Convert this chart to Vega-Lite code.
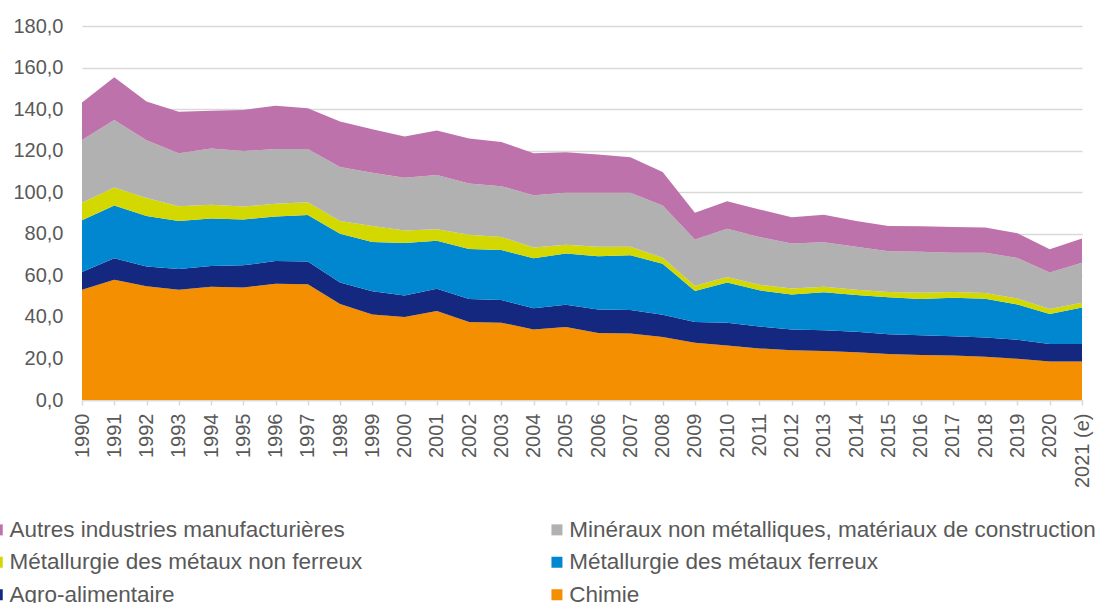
{
  "$schema": "https://vega.github.io/schema/vega-lite/v6.json",
  "width": 1000,
  "height": 374,
  "autosize": "none",
  "padding": {"left": 82, "top": 26, "right": 16, "bottom": 203},
  "config": {
    "view": {"stroke": null},
    "font": "Liberation Sans",
    "locale": {"number": {"decimal": ",", "thousands": " ", "grouping": [3], "currency": ["", " €"]}}
  },
  "data": {
    "values": [
      {"year": "1990", "chimie": 53.1, "agro": 8.5, "ferreux": 24.9, "nonferreux": 8.4, "mineraux": 30.2, "autres": 18.1},
      {"year": "1991", "chimie": 57.9, "agro": 10.3, "ferreux": 25.4, "nonferreux": 8.7, "mineraux": 32.5, "autres": 20.5},
      {"year": "1992", "chimie": 54.7, "agro": 9.6, "ferreux": 24.2, "nonferreux": 8.7, "mineraux": 27.8, "autres": 18.7},
      {"year": "1993", "chimie": 53.1, "agro": 10.0, "ferreux": 23.1, "nonferreux": 7.1, "mineraux": 25.4, "autres": 20.0},
      {"year": "1994", "chimie": 54.5, "agro": 10.0, "ferreux": 22.9, "nonferreux": 6.6, "mineraux": 27.1, "autres": 18.1},
      {"year": "1995", "chimie": 54.1, "agro": 10.7, "ferreux": 22.1, "nonferreux": 6.2, "mineraux": 26.7, "autres": 19.8},
      {"year": "1996", "chimie": 56.0, "agro": 10.9, "ferreux": 21.4, "nonferreux": 6.1, "mineraux": 26.4, "autres": 20.8},
      {"year": "1997", "chimie": 55.7, "agro": 10.9, "ferreux": 22.4, "nonferreux": 6.2, "mineraux": 25.6, "autres": 19.6},
      {"year": "1998", "chimie": 46.2, "agro": 10.3, "ferreux": 23.5, "nonferreux": 6.2, "mineraux": 25.9, "autres": 21.9},
      {"year": "1999", "chimie": 41.2, "agro": 11.1, "ferreux": 23.8, "nonferreux": 7.6, "mineraux": 25.7, "autres": 20.9},
      {"year": "2000", "chimie": 39.9, "agro": 10.4, "ferreux": 25.3, "nonferreux": 6.0, "mineraux": 25.4, "autres": 19.8},
      {"year": "2001", "chimie": 42.8, "agro": 10.8, "ferreux": 23.1, "nonferreux": 5.5, "mineraux": 26.1, "autres": 21.4},
      {"year": "2002", "chimie": 37.5, "agro": 11.1, "ferreux": 24.1, "nonferreux": 6.8, "mineraux": 24.7, "autres": 21.6},
      {"year": "2003", "chimie": 37.2, "agro": 10.9, "ferreux": 24.1, "nonferreux": 6.3, "mineraux": 24.4, "autres": 21.3},
      {"year": "2004", "chimie": 33.9, "agro": 10.2, "ferreux": 24.1, "nonferreux": 5.2, "mineraux": 25.2, "autres": 20.1},
      {"year": "2005", "chimie": 35.1, "agro": 10.7, "ferreux": 24.7, "nonferreux": 4.2, "mineraux": 25.0, "autres": 19.5},
      {"year": "2006", "chimie": 32.3, "agro": 11.3, "ferreux": 25.6, "nonferreux": 4.5, "mineraux": 26.0, "autres": 18.4},
      {"year": "2007", "chimie": 32.0, "agro": 11.3, "ferreux": 26.4, "nonferreux": 4.0, "mineraux": 26.0, "autres": 17.1},
      {"year": "2008", "chimie": 30.3, "agro": 10.7, "ferreux": 24.6, "nonferreux": 2.9, "mineraux": 25.1, "autres": 16.1},
      {"year": "2009", "chimie": 27.5, "agro": 10.1, "ferreux": 14.9, "nonferreux": 2.5, "mineraux": 22.2, "autres": 12.9},
      {"year": "2010", "chimie": 26.2, "agro": 11.0, "ferreux": 19.3, "nonferreux": 2.7, "mineraux": 23.2, "autres": 13.3},
      {"year": "2011", "chimie": 24.8, "agro": 10.6, "ferreux": 17.4, "nonferreux": 2.7, "mineraux": 23.0, "autres": 13.2},
      {"year": "2012", "chimie": 24.0, "agro": 9.9, "ferreux": 16.9, "nonferreux": 2.9, "mineraux": 21.6, "autres": 12.7},
      {"year": "2013", "chimie": 23.6, "agro": 10.0, "ferreux": 18.2, "nonferreux": 2.7, "mineraux": 21.4, "autres": 13.2},
      {"year": "2014", "chimie": 23.0, "agro": 9.8, "ferreux": 17.7, "nonferreux": 2.6, "mineraux": 20.6, "autres": 12.4},
      {"year": "2015", "chimie": 22.1, "agro": 9.6, "ferreux": 17.7, "nonferreux": 2.6, "mineraux": 19.6, "autres": 12.2},
      {"year": "2016", "chimie": 21.6, "agro": 9.6, "ferreux": 17.4, "nonferreux": 3.0, "mineraux": 19.7, "autres": 12.3},
      {"year": "2017", "chimie": 21.4, "agro": 9.3, "ferreux": 18.5, "nonferreux": 2.8, "mineraux": 18.9, "autres": 12.4},
      {"year": "2018", "chimie": 20.8, "agro": 9.3, "ferreux": 18.6, "nonferreux": 2.8, "mineraux": 19.4, "autres": 12.1},
      {"year": "2019", "chimie": 19.8, "agro": 9.2, "ferreux": 17.0, "nonferreux": 2.9, "mineraux": 19.5, "autres": 11.9},
      {"year": "2020", "chimie": 18.5, "agro": 8.4, "ferreux": 14.5, "nonferreux": 2.4, "mineraux": 17.6, "autres": 11.1},
      {"year": "2021 (e)", "chimie": 18.5, "agro": 8.5, "ferreux": 17.5, "nonferreux": 2.3, "mineraux": 19.2, "autres": 11.7}
    ]
  },
  "transform": [
    {"fold": ["chimie", "agro", "ferreux", "nonferreux", "mineraux", "autres"], "as": ["serie", "value"]},
    {"calculate": "indexof(['chimie','agro','ferreux','nonferreux','mineraux','autres'], datum.serie)", "as": "ord"}
  ],
  "mark": {"type": "area", "interpolate": "linear"},
  "encoding": {
    "x": {
      "field": "year",
      "type": "ordinal",
      "scale": {"type": "point", "padding": 0},
      "axis": {
        "title": null,
        "labelAngle": -90,
        "labelFontSize": 20,
        "labelColor": "#595959",
        "labelPadding": 8,
        "domainColor": "#D9D9D9",
        "domainWidth": 1.5,
        "tickColor": "#D9D9D9",
        "tickSize": 5,
        "tickWidth": 1.5,
        "grid": false
      }
    },
    "y": {
      "field": "value",
      "type": "quantitative",
      "stack": "zero",
      "scale": {"domain": [0, 180], "nice": false},
      "axis": {
        "title": null,
        "values": [0, 20, 40, 60, 80, 100, 120, 140, 160, 180],
        "format": ".1f",
        "labelFontSize": 20,
        "labelColor": "#595959",
        "labelPadding": 19,
        "domain": false,
        "ticks": false,
        "grid": true,
        "gridColor": "#D9D9D9",
        "gridWidth": 1.5
      }
    },
    "order": {"field": "ord", "type": "quantitative", "sort": "ascending"},
    "color": {
      "field": "serie",
      "type": "nominal",
      "scale": {
        "domain": ["autres", "nonferreux", "agro", "mineraux", "ferreux", "chimie"],
        "range": ["#BE72AB", "#D3D800", "#14287F", "#B1B1B1", "#0087CF", "#F38F00"]
      },
      "legend": {
        "title": null,
        "orient": "none",
        "legendX": -96,
        "legendY": 492.5,
        "columns": 2,
        "columnPadding": 182.7,
        "rowPadding": 9.5,
        "padding": 0,
        "symbolType": "square",
        "symbolSize": 121,
        "symbolStrokeWidth": 0,
        "labelFontSize": 22.5,
        "labelColor": "#595959",
        "labelOffset": 1,
        "labelLimit": 800,
        "labelExpr": "datum.label == 'autres' ? 'Autres industries manufacturières' : datum.label == 'mineraux' ? 'Minéraux non métalliques, matériaux de construction' : datum.label == 'nonferreux' ? 'Métallurgie des métaux non ferreux' : datum.label == 'ferreux' ? 'Métallurgie des métaux ferreux' : datum.label == 'agro' ? 'Agro-alimentaire' : 'Chimie'"
      }
    }
  }
}
